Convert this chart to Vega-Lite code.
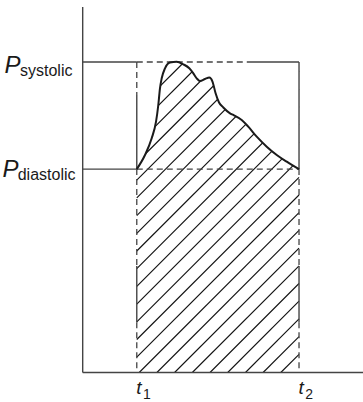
{
  "$schema": "https://vega.github.io/schema/vega-lite/v6.json",
  "width": 363,
  "height": 402,
  "padding": 0,
  "autosize": {"type": "none"},
  "background": "white",
  "config": {"view": {"stroke": null}},
  "datasets": {
    "curve": [
      {"t": 1.000, "P": 78.6}, {"t": 1.152, "P": 84.06}, {"t": 1.276, "P": 90.51}, {"t": 1.356, "P": 96.93},
      {"t": 1.398, "P": 103.38}, {"t": 1.429, "P": 109.84}, {"t": 1.461, "P": 113.70}, {"t": 1.522, "P": 117.57},
      {"t": 1.614, "P": 119.81}, {"t": 1.738, "P": 120.12}, {"t": 1.860, "P": 119.11}, {"t": 1.971, "P": 117.57},
      {"t": 2.045, "P": 115.63}, {"t": 2.108, "P": 113.70}, {"t": 2.169, "P": 112.66}, {"t": 2.262, "P": 113.43},
      {"t": 2.341, "P": 114.01}, {"t": 2.400, "P": 112.46}, {"t": 2.456, "P": 108.02}, {"t": 2.521, "P": 104.35},
      {"t": 2.600, "P": 102.42}, {"t": 2.724, "P": 100.17}, {"t": 2.785, "P": 99.52}, {"t": 2.940, "P": 97.58},
      {"t": 3.062, "P": 95.00}, {"t": 3.218, "P": 91.13}, {"t": 3.403, "P": 87.27}, {"t": 3.588, "P": 84.06},
      {"t": 3.773, "P": 81.47}, {"t": 4.000, "P": 78.6}
    ],
    "hatch": [
      {"ta": 1, "pa": 101.68, "tb": 1.877, "pb": 120},
      {"ta": 1, "pa": 94.84, "tb": 2.204, "pb": 120},
      {"ta": 1, "pa": 88.00, "tb": 2.532, "pb": 120},
      {"ta": 1, "pa": 81.16, "tb": 2.859, "pb": 120},
      {"ta": 1, "pa": 74.32, "tb": 3.186, "pb": 120},
      {"ta": 1, "pa": 67.48, "tb": 3.514, "pb": 120},
      {"ta": 1, "pa": 60.64, "tb": 3.841, "pb": 120},
      {"ta": 1, "pa": 53.80, "tb": 4, "pb": 116.48},
      {"ta": 1, "pa": 46.96, "tb": 4, "pb": 109.64},
      {"ta": 1, "pa": 40.12, "tb": 4, "pb": 102.80},
      {"ta": 1, "pa": 33.28, "tb": 4, "pb": 95.96},
      {"ta": 1, "pa": 26.43, "tb": 4, "pb": 89.12},
      {"ta": 1, "pa": 19.59, "tb": 4, "pb": 82.28},
      {"ta": 1, "pa": 12.75, "tb": 4, "pb": 75.44},
      {"ta": 1, "pa": 5.91, "tb": 4, "pb": 68.60},
      {"ta": 1.045, "pa": 0, "tb": 4, "pb": 61.76},
      {"ta": 1.372, "pa": 0, "tb": 4, "pb": 54.92},
      {"ta": 1.699, "pa": 0, "tb": 4, "pb": 48.08},
      {"ta": 2.027, "pa": 0, "tb": 4, "pb": 41.24},
      {"ta": 2.354, "pa": 0, "tb": 4, "pb": 34.40},
      {"ta": 2.681, "pa": 0, "tb": 4, "pb": 27.56},
      {"ta": 3.009, "pa": 0, "tb": 4, "pb": 20.71},
      {"ta": 3.336, "pa": 0, "tb": 4, "pb": 13.87},
      {"ta": 3.663, "pa": 0, "tb": 4, "pb": 7.03}
    ],
    "solid": [
      {"ta": 0, "pa": 0, "tb": 0, "pb": 141.3},
      {"ta": 0, "pa": 0, "tb": 5.183, "pb": 0},
      {"ta": 0, "pa": 120, "tb": 1, "pb": 120},
      {"ta": 3.038, "pa": 120, "tb": 4, "pb": 120},
      {"ta": 4, "pa": 120, "tb": 4, "pb": 78.6},
      {"ta": 0, "pa": 78.6, "tb": 1, "pb": 78.6},
      {"ta": 1, "pa": 107.2, "tb": 1, "pb": 78.6},
      {"ta": 1, "pa": 41.2, "tb": 1, "pb": 19.4},
      {"ta": 4, "pa": 41.2, "tb": 4, "pb": 19.4}
    ],
    "dashed": [
      {"ta": 1, "pa": 120, "tb": 3.038, "pb": 120},
      {"ta": 1, "pa": 120, "tb": 1, "pb": 107.2},
      {"ta": 1, "pa": 78.6, "tb": 4, "pb": 78.6},
      {"ta": 1, "pa": 78.6, "tb": 1, "pb": 41.2},
      {"ta": 1, "pa": 19.4, "tb": 1, "pb": 0},
      {"ta": 4, "pa": 78.6, "tb": 4, "pb": 41.2},
      {"ta": 4, "pa": 19.4, "tb": 4, "pb": 0}
    ],
    "plabels": [
      {"name": "systolic", "P": 120},
      {"name": "diastolic", "P": 78.6}
    ],
    "tlabels": [
      {"t": 1, "sub": "1"},
      {"t": 4, "sub": "2"}
    ]
  },
  "layer": [
    {
      "data": {"name": "hatch"},
      "mark": {"type": "rule", "color": "#111111", "strokeWidth": 1.1},
      "encoding": {
        "x": {"field": "ta", "type": "quantitative", "axis": null, "scale": {"domain": [-1.529, 5.183], "nice": false, "zero": false}},
        "y": {"field": "pa", "type": "quantitative", "axis": null, "scale": {"domain": [-11.4, 143.96], "nice": false, "zero": false}},
        "x2": {"field": "tb"},
        "y2": {"field": "pb"}
      }
    },
    {
      "data": {"name": "curve"},
      "mark": {"type": "area", "color": "white", "interpolate": "monotone", "opacity": 1},
      "encoding": {
        "x": {"field": "t", "type": "quantitative", "axis": null, "scale": {"domain": [-1.529, 5.183], "nice": false, "zero": false}},
        "y": {"field": "P", "type": "quantitative", "axis": null, "scale": {"domain": [-11.4, 143.96], "nice": false, "zero": false}},
        "y2": {"datum": 120.4}
      }
    },
    {
      "data": {"name": "dashed"},
      "mark": {"type": "rule", "color": "#444444", "strokeWidth": 1.3, "strokeDash": [6, 4]},
      "encoding": {
        "x": {"field": "ta", "type": "quantitative", "axis": null, "scale": {"domain": [-1.529, 5.183], "nice": false, "zero": false}},
        "y": {"field": "pa", "type": "quantitative", "axis": null, "scale": {"domain": [-11.4, 143.96], "nice": false, "zero": false}},
        "x2": {"field": "tb"},
        "y2": {"field": "pb"}
      }
    },
    {
      "data": {"name": "solid"},
      "mark": {"type": "rule", "color": "#444444", "strokeWidth": 1.4},
      "encoding": {
        "x": {"field": "ta", "type": "quantitative", "axis": null, "scale": {"domain": [-1.529, 5.183], "nice": false, "zero": false}},
        "y": {"field": "pa", "type": "quantitative", "axis": null, "scale": {"domain": [-11.4, 143.96], "nice": false, "zero": false}},
        "x2": {"field": "tb"},
        "y2": {"field": "pb"}
      }
    },
    {
      "data": {"name": "curve"},
      "mark": {"type": "line", "color": "#1a1a1a", "strokeWidth": 2, "interpolate": "monotone"},
      "encoding": {
        "x": {"field": "t", "type": "quantitative", "axis": null, "scale": {"domain": [-1.529, 5.183], "nice": false, "zero": false}},
        "y": {"field": "P", "type": "quantitative", "axis": null, "scale": {"domain": [-11.4, 143.96], "nice": false, "zero": false}}
      }
    },
    {
      "data": {"name": "plabels"},
      "transform": [{"filter": "datum.name === 'systolic'"}],
      "mark": {"type": "text", "text": "P", "font": "Liberation Sans", "fontStyle": "italic", "fontSize": 24, "align": "left", "baseline": "alphabetic", "dx": 4.5, "dy": 11.3, "color": "#1a1a1a"},
      "encoding": {
        "x": {"datum": -1.529, "type": "quantitative", "axis": null, "scale": {"domain": [-1.529, 5.183], "nice": false, "zero": false}},
        "y": {"field": "P", "type": "quantitative", "axis": null, "scale": {"domain": [-11.4, 143.96], "nice": false, "zero": false}}
      }
    },
    {
      "data": {"name": "plabels"},
      "transform": [{"filter": "datum.name === 'systolic'"}],
      "mark": {"type": "text", "font": "Liberation Sans", "fontSize": 16, "align": "left", "baseline": "alphabetic", "dx": 20, "dy": 14, "color": "#1a1a1a"},
      "encoding": {
        "x": {"datum": -1.529, "type": "quantitative", "axis": null, "scale": {"domain": [-1.529, 5.183], "nice": false, "zero": false}},
        "y": {"field": "P", "type": "quantitative", "axis": null, "scale": {"domain": [-11.4, 143.96], "nice": false, "zero": false}},
        "text": {"field": "name"}
      }
    },
    {
      "data": {"name": "plabels"},
      "transform": [{"filter": "datum.name === 'diastolic'"}],
      "mark": {"type": "text", "text": "P", "font": "Liberation Sans", "fontStyle": "italic", "fontSize": 24, "align": "left", "baseline": "alphabetic", "dx": 2.5, "dy": 7.8, "color": "#1a1a1a"},
      "encoding": {
        "x": {"datum": -1.529, "type": "quantitative", "axis": null, "scale": {"domain": [-1.529, 5.183], "nice": false, "zero": false}},
        "y": {"field": "P", "type": "quantitative", "axis": null, "scale": {"domain": [-11.4, 143.96], "nice": false, "zero": false}}
      }
    },
    {
      "data": {"name": "plabels"},
      "transform": [{"filter": "datum.name === 'diastolic'"}],
      "mark": {"type": "text", "font": "Liberation Sans", "fontSize": 16, "align": "left", "baseline": "alphabetic", "dx": 17.7, "dy": 10.5, "color": "#1a1a1a"},
      "encoding": {
        "x": {"datum": -1.529, "type": "quantitative", "axis": null, "scale": {"domain": [-1.529, 5.183], "nice": false, "zero": false}},
        "y": {"field": "P", "type": "quantitative", "axis": null, "scale": {"domain": [-11.4, 143.96], "nice": false, "zero": false}},
        "text": {"field": "name"}
      }
    },
    {
      "data": {"name": "tlabels"},
      "mark": {"type": "text", "text": "t", "font": "Liberation Sans", "fontStyle": "italic", "fontSize": 19, "align": "left", "baseline": "alphabetic", "dx": -0.5, "dy": 21.3, "color": "#1a1a1a"},
      "encoding": {
        "x": {"field": "t", "type": "quantitative", "axis": null, "scale": {"domain": [-1.529, 5.183], "nice": false, "zero": false}},
        "y": {"datum": 0, "type": "quantitative", "axis": null, "scale": {"domain": [-11.4, 143.96], "nice": false, "zero": false}}
      }
    },
    {
      "data": {"name": "tlabels"},
      "mark": {"type": "text", "font": "Liberation Sans", "fontSize": 14, "align": "left", "baseline": "alphabetic", "dx": 6.3, "dy": 26.3, "color": "#1a1a1a"},
      "encoding": {
        "x": {"field": "t", "type": "quantitative", "axis": null, "scale": {"domain": [-1.529, 5.183], "nice": false, "zero": false}},
        "y": {"datum": 0, "type": "quantitative", "axis": null, "scale": {"domain": [-11.4, 143.96], "nice": false, "zero": false}},
        "text": {"field": "sub"}
      }
    }
  ]
}
